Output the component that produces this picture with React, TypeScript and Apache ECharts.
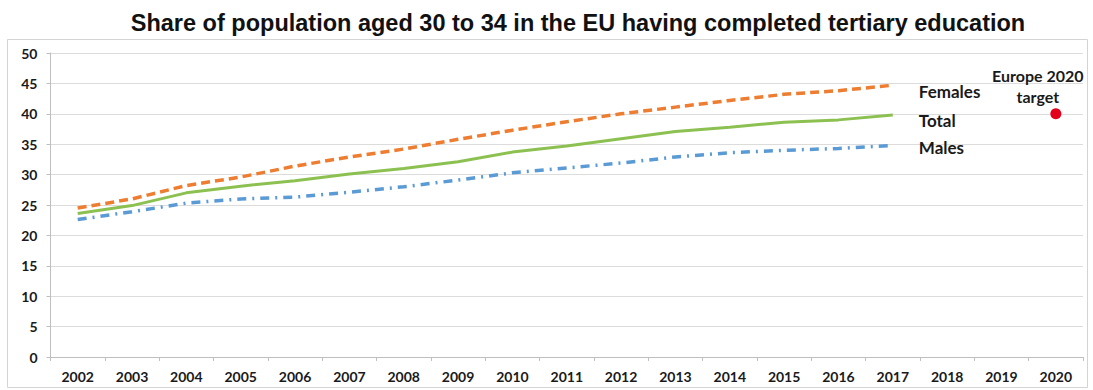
import React, { useEffect, useRef } from "react";
import * as echarts from "echarts";

const years = ["2002","2003","2004","2005","2006","2007","2008","2009","2010","2011","2012","2013","2014","2015","2016","2017","2018","2019","2020"];
const females = [24.5, 26.0, 28.2, 29.6, 31.4, 32.9, 34.2, 35.8, 37.3, 38.7, 40.0, 41.1, 42.2, 43.2, 43.8, 44.7];
const total = [23.6, 24.9, 27.0, 28.1, 29.0, 30.1, 31.0, 32.1, 33.7, 34.7, 35.9, 37.1, 37.8, 38.6, 39.0, 39.8];
const males = [22.6, 23.9, 25.3, 26.0, 26.3, 27.1, 28.0, 29.1, 30.3, 31.1, 31.9, 32.9, 33.6, 34.0, 34.3, 34.8];
const targetYear = "2020";
const targetValue = 40;
const titleText = "Share of population aged 30 to 34 in the EU having completed tertiary education";

export default function App() {
  const ref = useRef<HTMLDivElement>(null);
  useEffect(() => {
    if (!ref.current) return;
    const chart = echarts.init(ref.current, undefined, { renderer: "svg" });
    const labelFont = { fontFamily: "Lato", fontWeight: "bold" as const, color: "#1a1a1a" };
    const endLbl = (text: string, dy: number) => ({
      show: true,
      formatter: text,
      offset: [18, dy],
      fontSize: 17,
      ...labelFont,
    });
    chart.setOption({
      animation: false,
      backgroundColor: "#ffffff",
      title: {
        text: titleText,
        left: 573,
        textAlign: "center",
        top: 6,
        textStyle: { fontFamily: "Liberation Sans", fontWeight: "bold", fontSize: 23.5, color: "#111" },
      },
      graphic: [
        {
          type: "rect",
          shape: { x: 7.5, y: 39.5, width: 1080, height: 348 },
          style: { fill: "none", stroke: "#d4d4d4", lineWidth: 1 },
          silent: true,
        },
      ],
      grid: { left: 50.5, right: 10, top: 53, bottom: 33, containLabel: false },
      xAxis: {
        type: "category",
        data: years,
        boundaryGap: true,
        axisLine: { lineStyle: { color: "#bfbfbf" } },
        axisTick: { show: true, length: 4, lineStyle: { color: "#bfbfbf" }, alignWithLabel: false },
        axisLabel: { fontSize: 14, margin: 12, ...labelFont },
        splitLine: { show: false },
      },
      yAxis: {
        type: "value",
        min: 0,
        max: 50,
        interval: 5,
        axisLine: { show: true, lineStyle: { color: "#bfbfbf" } },
        axisTick: { show: true, length: 4, lineStyle: { color: "#bfbfbf" } },
        axisLabel: { fontSize: 14, margin: 13, ...labelFont },
        splitLine: { lineStyle: { color: "#dcdcdc", width: 1 } },
      },
      series: [
        {
          name: "Females",
          type: "line",
          data: females,
          symbol: "none",
          lineStyle: { color: "#ED7D31", width: 3.5, type: [9, 5] },
          endLabel: endLbl("Females", 6),
        },
        {
          name: "Total",
          type: "line",
          data: total,
          symbol: "none",
          lineStyle: { color: "#8CC152", width: 3 },
          endLabel: endLbl("Total", 5),
        },
        {
          name: "Males",
          type: "line",
          data: males,
          symbol: "none",
          lineStyle: { color: "#5B9BD5", width: 3.5, type: [9, 6, 2, 6] },
          endLabel: endLbl("Males", 2),
        },
        {
          name: "Europe 2020 target",
          type: "scatter",
          data: [[targetYear, targetValue]],
          symbol: "circle",
          symbolSize: 11,
          itemStyle: { color: "#E3001B", opacity: 1 },
          label: {
            show: true,
            position: "top",
            formatter: "Europe 2020\ntarget",
            offset: [-18, 4],
            fontSize: 16,
            lineHeight: 21,
            align: "center",
            opacity: 1,
            ...labelFont,
          },
        },
      ],
    });
    return () => chart.dispose();
  }, []);
  return (
    <div
      ref={ref}
      style={{ position: "fixed", left: 0, top: 0, width: 1093, height: 390, background: "#fff" }}
    />
  );
}
